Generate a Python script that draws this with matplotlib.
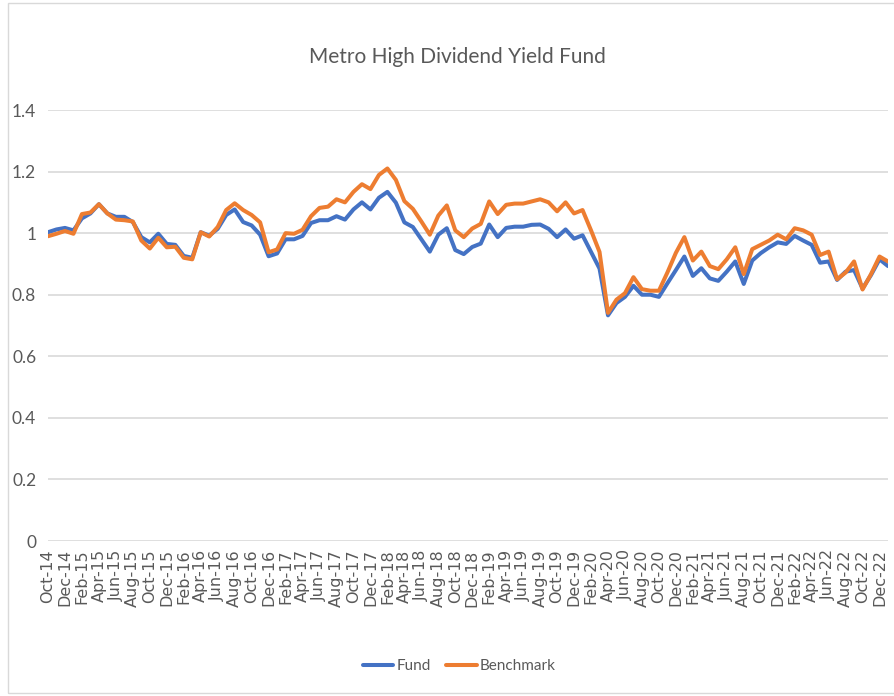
import numpy as np
import pandas as pd
import matplotlib
matplotlib.use("Agg")
import matplotlib.pyplot as plt
from matplotlib.patches import Rectangle

# monthly values, Oct-14 .. Jan-23
fund = [1.003, 1.012, 1.017, 1.009, 1.048, 1.064, 1.094, 1.064, 1.053, 1.053,
        1.036, 0.987, 0.970, 0.998, 0.965, 0.962, 0.926, 0.920, 1.003, 0.992,
        1.014, 1.059, 1.077, 1.036, 1.025, 0.995, 0.925, 0.934, 0.980, 0.980,
        0.991, 1.033, 1.042, 1.042, 1.055, 1.044, 1.077, 1.100, 1.077, 1.115,
        1.134, 1.099, 1.035, 1.020, 0.980, 0.940, 0.995, 1.016, 0.945, 0.932,
        0.955, 0.966, 1.028, 0.987, 1.017, 1.021, 1.021, 1.027, 1.028, 1.014,
        0.987, 1.012, 0.982, 0.993, 0.939, 0.885, 0.733, 0.773, 0.793, 0.829,
        0.800, 0.800, 0.793, 0.837, 0.880, 0.924, 0.861, 0.886, 0.853, 0.845,
        0.875, 0.908, 0.835, 0.911, 0.935, 0.954, 0.970, 0.965, 0.991, 0.976,
        0.962, 0.904, 0.908, 0.848, 0.875, 0.880, 0.820, 0.864, 0.915, 0.893]

benchmark = [0.990, 0.998, 1.007, 0.998, 1.062, 1.067, 1.094, 1.064, 1.044, 1.042,
             1.038, 0.976, 0.950, 0.985, 0.954, 0.956, 0.920, 0.915, 1.003, 0.989,
             1.020, 1.075, 1.097, 1.075, 1.059, 1.035, 0.938, 0.947, 1.000, 0.998,
             1.011, 1.055, 1.082, 1.086, 1.110, 1.100, 1.134, 1.159, 1.143, 1.189,
             1.210, 1.173, 1.104, 1.079, 1.038, 0.995, 1.057, 1.090, 1.009, 0.987,
             1.015, 1.030, 1.103, 1.062, 1.092, 1.096, 1.096, 1.103, 1.110, 1.100,
             1.071, 1.100, 1.064, 1.075, 1.009, 0.939, 0.741, 0.784, 0.805, 0.857,
             0.818, 0.813, 0.813, 0.872, 0.936, 0.987, 0.911, 0.940, 0.893, 0.883,
             0.915, 0.954, 0.867, 0.948, 0.962, 0.976, 0.995, 0.980, 1.016, 1.009,
             0.995, 0.929, 0.940, 0.850, 0.872, 0.908, 0.817, 0.867, 0.924, 0.908]

months = pd.date_range("2014-10-01", periods=len(fund), freq="MS")
month_labels = [d.strftime("%b-%y") for d in months]

gray = "#595959"
narrow = ["Lato", "DejaVu Sans"]

fig = plt.figure(figsize=(8.95, 6.96), dpi=100)
fig.patches.append(Rectangle((8 / 895, 3 / 696), 1.0, 690 / 696, transform=fig.transFigure,
                             fill=False, edgecolor="#D9D9D9", linewidth=1))
ax = fig.add_axes([48 / 895, 155 / 696, 840 / 895, 431 / 696])

x = np.arange(len(fund))
ax.plot(x, fund, color="#4472C4", lw=2.9, solid_joinstyle="round", solid_capstyle="round", label="Fund")
ax.plot(x, benchmark, color="#ED7D31", lw=2.9, solid_joinstyle="round", solid_capstyle="round", label="Benchmark")

ax.set_xlim(0, len(fund) - 1)
ax.set_ylim(0, 1.4)
ax.set_yticks(np.arange(0, 1.41, 0.2))
ax.set_yticklabels(["0", "0.2", "0.4", "0.6", "0.8", "1", "1.2", "1.4"],
                   family=narrow, fontsize=12.5, color=gray)
ax.set_xticks(x[::2])
ax.set_xticklabels(month_labels[::2], rotation=90, fontsize=11.5, color=gray, family="DejaVu Sans")
ax.tick_params(axis="y", length=0, pad=8.5)
ax.tick_params(axis="x", length=0, pad=6)
ax.grid(axis="y", color="#D9D9D9", lw=1.2)
ax.set_axisbelow(True)
for s in ax.spines.values():
    s.set_visible(False)

fig.text(0.511, 0.918, "Metro High Dividend Yield Fund", ha="center", va="center",
         fontsize=15, color=gray, family=narrow)

fig.legend(loc="center", bbox_to_anchor=(0.513, 0.043), ncol=2, frameon=False,
           prop={"family": narrow, "size": 11}, labelcolor=gray,
           handlelength=2.0, handletextpad=0.2, columnspacing=1.0)

fig.savefig("out.png", dpi=100)
